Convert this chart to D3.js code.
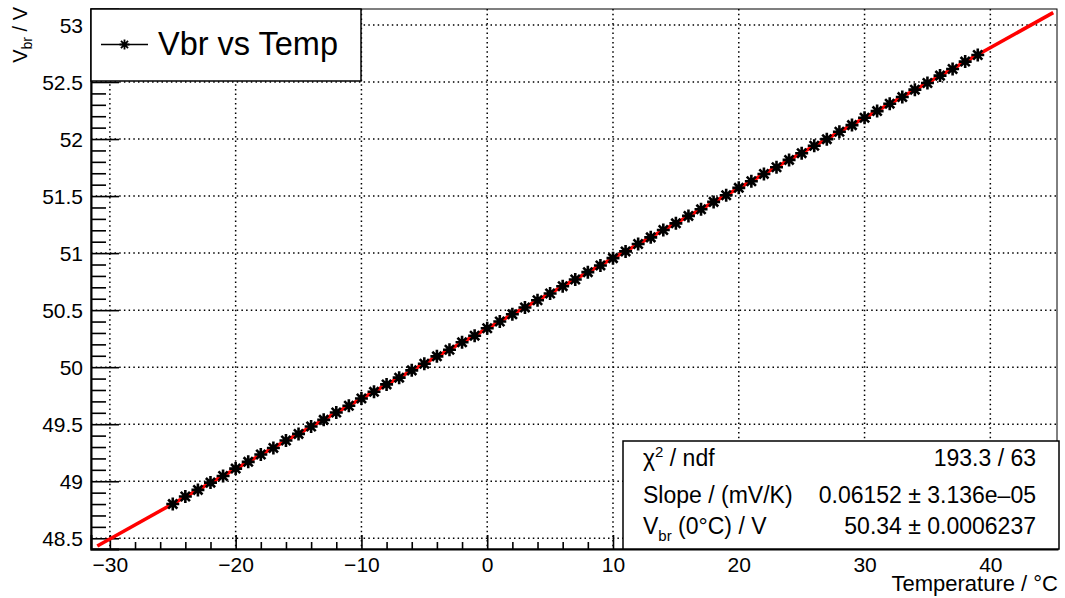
<!DOCTYPE html>
<html>
<head>
<meta charset="utf-8">
<script src="https://cdn.jsdelivr.net/npm/d3@7"></script>
<style>
  body { margin: 0; background: #fff; }
  svg { display: block; font-family: "Liberation Sans", Arial, Helvetica, sans-serif; }
</style>
</head>
<body>
<svg width="1065" height="598"></svg>
<script>
const width = 1065;
const height = 598;

// measured breakdown voltage vs temperature
const temps = [-25, -24, -23, -22, -21, -20, -19, -18, -17, -16, -15, -14, -13, -12, -11, -10,
  -9, -8, -7, -6, -5, -4, -3, -2, -1, 0, 1, 2, 3, 4, 5, 6, 7, 8, 9, 10, 11, 12, 13, 14, 15,
  16, 17, 18, 19, 20, 21, 22, 23, 24, 25, 26, 27, 28, 29, 30, 31, 32, 33, 34, 35, 36, 37, 38, 39];
const vbr = [48.800, 48.866, 48.924, 48.988, 49.046, 49.111, 49.170, 49.234, 49.292, 49.357,
  49.415, 49.480, 49.538, 49.603, 49.662, 49.726, 49.784, 49.849, 49.908, 49.972,
  50.030, 50.095, 50.153, 50.218, 50.276, 50.341, 50.400, 50.464, 50.523, 50.587,
  50.646, 50.710, 50.769, 50.833, 50.892, 50.956, 51.015, 51.080, 51.138, 51.203,
  51.261, 51.326, 51.384, 51.449, 51.507, 51.572, 51.630, 51.694, 51.753, 51.817,
  51.876, 51.941, 51.999, 52.064, 52.122, 52.187, 52.245, 52.310, 52.368, 52.433,
  52.491, 52.556, 52.614, 52.679, 52.737];

// fit result (pol1)
const fitSlope = 0.06152;
const fitOffset = 50.34;
const fitRange = [-31, 45];

const xTicks = [-30, -20, -10, 0, 10, 20, 30, 40];
const yTicks = [48.5, 49, 49.5, 50, 50.5, 51, 51.5, 52, 52.5, 53];

const statValues = ["193.3 / 63", "0.06152 ± 3.136e–05", "50.34 ± 0.0006237"];

const frame = { left: 91, top: 9, right: 1057, bottom: 549 };

const svg = d3.select("svg").attr("viewBox", [0, 0, width, height]);

const x = d3.scaleLinear().domain([-31.5, 45.3]).range([frame.left, frame.right]);
const y = d3.scaleLinear().domain([48.406, 53.14]).range([frame.bottom, frame.top]);

const xMinor = d3.range(-30, 46, 2).filter(v => v % 10 !== 0);
const yMinor = d3.range(48.5, 53.11, 0.1).map(v => +v.toFixed(1)).filter(v => Math.abs(v * 2 - Math.round(v * 2)) > 1e-6);

// grid
const grid = svg.append("g")
  .attr("stroke", "#000")
  .attr("stroke-width", 1.5)
  .attr("stroke-dasharray", "1.5,3.2");
grid.selectAll("line.gx")
  .data(xTicks)
  .enter().append("line")
  .attr("x1", d => x(d)).attr("x2", d => x(d))
  .attr("y1", frame.top).attr("y2", frame.bottom);
grid.selectAll("line.gy")
  .data(yTicks)
  .enter().append("line")
  .attr("x1", frame.left).attr("x2", frame.right)
  .attr("y1", d => y(d)).attr("y2", d => y(d));

// frame
svg.append("rect")
  .attr("x", frame.left).attr("y", frame.top)
  .attr("width", frame.right - frame.left)
  .attr("height", frame.bottom - frame.top)
  .attr("fill", "none")
  .attr("stroke", "#000")
  .attr("stroke-width", 1);

// x axis
svg.append("g")
  .attr("transform", `translate(0,${frame.bottom})`)
  .call(d3.axisBottom(x).tickValues(xTicks).tickSize(-14).tickPadding(8).tickFormat(d => d3.format("d")(d)));
svg.append("g")
  .attr("transform", `translate(0,${frame.bottom})`)
  .call(d3.axisBottom(x).tickValues(xMinor).tickSize(-7).tickFormat(""))
  .call(g => g.select(".domain").remove());

// y axis
const yAxis = svg.append("g")
  .attr("transform", `translate(${frame.left},0)`)
  .call(d3.axisLeft(y).tickValues(yTicks).tickSize(-28).tickPadding(8).tickFormat(d => String(d)));
svg.append("g")
  .attr("transform", `translate(${frame.left},0)`)
  .call(d3.axisLeft(y).tickValues(yMinor).tickSize(-15).tickFormat(""))
  .call(g => g.select(".domain").remove());

svg.selectAll(".domain").attr("stroke-width", 2);
svg.selectAll(".tick line").attr("stroke-width", 1.6);
svg.selectAll(".tick text")
  .attr("font-size", 21)
  .attr("font-family", "Liberation Sans, Arial, sans-serif")
  .attr("fill", "#000");
yAxis.selectAll(".tick text").attr("dy", "0.36em");

// axis titles
svg.append("text")
  .attr("x", 1058).attr("y", 591)
  .attr("text-anchor", "end")
  .attr("font-size", 22)
  .text("Temperature / °C");

const yTitle = svg.append("text")
  .attr("transform", "translate(27,7) rotate(-90)")
  .attr("text-anchor", "end")
  .attr("font-size", 20);
yTitle.append("tspan").text("V");
yTitle.append("tspan").attr("font-size", 14).attr("dy", 5).text("br");
yTitle.append("tspan").attr("dy", -5).text(" / V");

// fit function
const fitLine = d3.line().x(d => x(d)).y(d => y(fitOffset + fitSlope * d));
svg.append("path")
  .attr("d", fitLine(fitRange))
  .attr("fill", "none")
  .attr("stroke", "#ff0000")
  .attr("stroke-width", 3.5);

// asterisk marker
function star(s) {
  const d = s * 0.7071;
  return `M${-s},0L${s},0M0,${-s}L0,${s}M${-d},${-d}L${d},${d}M${-d},${d}L${d},${-d}`;
}

svg.append("g")
  .selectAll("path.pt")
  .data(temps)
  .enter().append("path")
  .attr("class", "pt")
  .attr("transform", (d, i) => `translate(${x(d)},${y(vbr[i])})`)
  .attr("d", star(6.5))
  .attr("stroke", "#000")
  .attr("stroke-width", 2.6)
  .attr("fill", "none");

// legend
const leg = svg.append("g");
leg.append("rect")
  .attr("x", 91).attr("y", 9).attr("width", 270).attr("height", 72)
  .attr("fill", "#fff").attr("stroke", "#000").attr("stroke-width", 1.5);
leg.append("line")
  .attr("x1", 101).attr("x2", 148).attr("y1", 44.5).attr("y2", 44.5)
  .attr("stroke", "#000").attr("stroke-width", 1.5);
leg.append("path")
  .attr("transform", "translate(124.5,44.5)")
  .attr("d", star(5))
  .attr("stroke", "#000").attr("stroke-width", 1.8);
leg.append("text")
  .attr("x", 158).attr("y", 55)
  .attr("font-size", 32.5)
  .text("Vbr vs Temp");

// stats box
const stats = svg.append("g");
stats.append("rect")
  .attr("x", 623).attr("y", 441).attr("width", 436).attr("height", 108)
  .attr("fill", "#fff").attr("stroke", "#000").attr("stroke-width", 1.5);
const rowY = [466, 502.5, 534];
const statSize = 23;

const n0 = stats.append("text").attr("x", 643).attr("y", rowY[0]).attr("font-size", statSize);
n0.append("tspan").text("χ");
n0.append("tspan").attr("font-size", 15).attr("dy", -9).text("2");
n0.append("tspan").attr("dy", 9).text(" / ndf");

stats.append("text").attr("x", 643).attr("y", rowY[1]).attr("font-size", statSize).text("Slope / (mV/K)");

const n2 = stats.append("text").attr("x", 643).attr("y", rowY[2]).attr("font-size", statSize);
n2.append("tspan").text("V");
n2.append("tspan").attr("font-size", 15).attr("dy", 7).text("br");
n2.append("tspan").attr("dy", -7).text(" (0°C) / V");

stats.selectAll("text.val")
  .data(statValues)
  .enter().append("text")
  .attr("class", "val")
  .attr("x", 1036)
  .attr("y", (d, i) => rowY[i])
  .attr("text-anchor", "end")
  .attr("font-size", statSize)
  .text(d => d);
</script>
</body>
</html>
